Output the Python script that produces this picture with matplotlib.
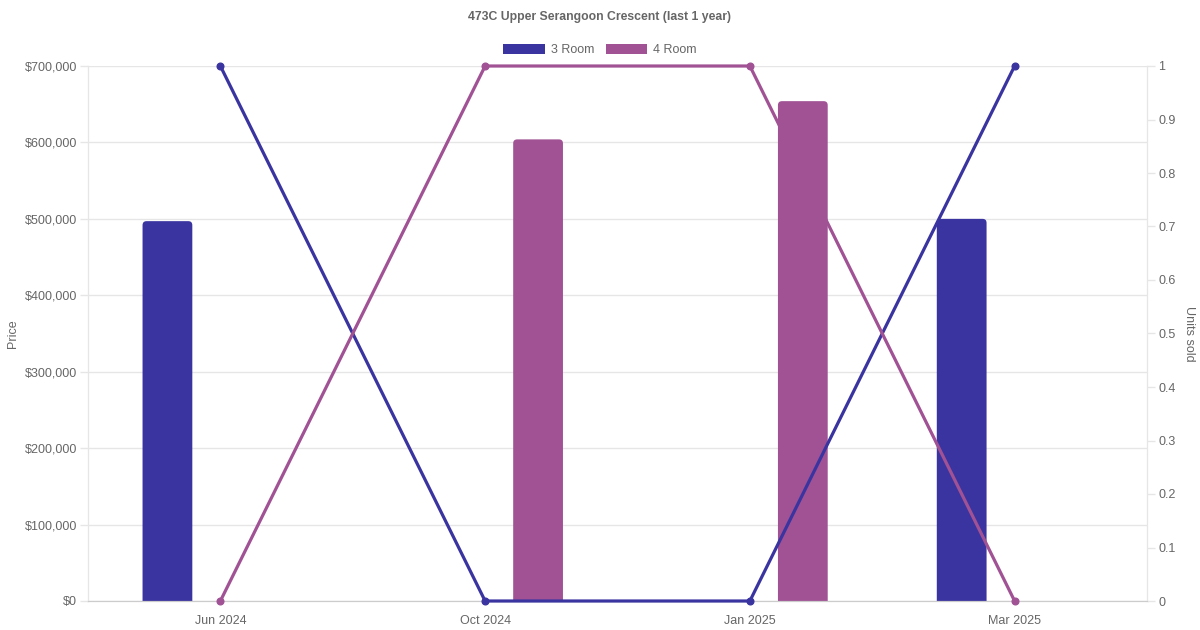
import numpy as np
import matplotlib
matplotlib.use("Agg")
import matplotlib.pyplot as plt
from matplotlib.patches import Patch, FancyBboxPatch
from matplotlib.ticker import FuncFormatter, MultipleLocator

plt.rcParams['font.family'] = ['Liberation Sans', 'DejaVu Sans']

months = ['Jun 2024', 'Oct 2024', 'Jan 2025', 'Mar 2025']
price_3room = [497000, np.nan, np.nan, 500000]
price_4room = [np.nan, 604000, 654000, np.nan]
units_3room = [1, 0, 0, 1]
units_4room = [0, 1, 1, 0]

c3 = '#3a34a0'
c4 = '#a05294'
grid_c = '#e6e6e6'
text_c = '#666666'

fig = plt.figure(figsize=(12, 6.3), dpi=100)
ax = fig.add_axes([88 / 1200, 29 / 630, (1147 - 88) / 1200, (601 - 66) / 630])
ax2 = ax.twinx()

ax.set_xlim(-0.5, len(months) - 0.5)
ax.set_ylim(0, 700000)
ax2.set_ylim(0, 1)

x = np.arange(len(months))
bars = list(ax.bar(x - 0.2, price_3room, width=0.188, color=c3, zorder=2))
bars += list(ax.bar(x + 0.2, price_4room, width=0.188, color=c4, zorder=2))

# round the bar tops like the original (corner radius ~4px)
px_x = len(months) / 1059
px_y = 700000 / 535
r = 4 * px_x
for b in bars:
    h = b.get_height()
    if not np.isfinite(h):
        continue
    b.set_visible(False)
    p = FancyBboxPatch((b.get_x(), -5 * px_y), b.get_width(), h + 5 * px_y,
                       boxstyle='round,pad=0,rounding_size=%f' % r,
                       mutation_aspect=px_y / px_x,
                       facecolor=b.get_facecolor(), edgecolor='none', zorder=2)
    ax.add_patch(p)

ax2.plot(x, units_3room, color=c3, lw=2.3, marker='o', ms=4.8, clip_on=False, zorder=3)
ax2.plot(x, units_4room, color=c4, lw=2.3, marker='o', ms=4.8, clip_on=False, zorder=3)

ax.yaxis.set_major_locator(MultipleLocator(100000))
ax.yaxis.set_major_formatter(FuncFormatter(lambda v, p: '${:,.0f}'.format(v)))
ax2.yaxis.set_major_locator(MultipleLocator(0.1))
ax2.yaxis.set_major_formatter(FuncFormatter(lambda v, p: '{:g}'.format(round(v, 1))))

ax.set_xticks(x)
ax.set_xticklabels(months)
ax.tick_params(axis='x', length=0, pad=10, labelsize=9, labelcolor=text_c)
ax.tick_params(axis='y', length=6, width=1, color=grid_c, pad=2, labelsize=9, labelcolor=text_c)
ax2.tick_params(axis='y', length=6, width=1, color=grid_c, pad=2, labelsize=9, labelcolor=text_c)

ax.grid(axis='y', color=grid_c, lw=1, zorder=0)
ax.set_axisbelow(True)
for a in (ax, ax2):
    a.spines['top'].set_visible(False)
    a.spines['left'].set_color(grid_c)
    a.spines['right'].set_color(grid_c)
    a.spines['bottom'].set_color('#cccccc')

ax.set_ylabel('Price', color=text_c, fontsize=9, labelpad=4)
ax2.set_ylabel('Units sold', color=text_c, fontsize=9, rotation=270, labelpad=14)

fig.text(0.5, 1 - 17 / 630, '473C Upper Serangoon Crescent (last 1 year)',
         ha='center', va='center', fontsize=8.8, fontweight='bold', color=text_c)

handles = [Patch(facecolor=c3, label='3 Room'), Patch(facecolor=c4, label='4 Room')]
fig.legend(handles=handles, loc='center', bbox_to_anchor=(0.5, 1 - 50 / 630), ncol=2,
           frameon=False, fontsize=9, labelcolor=text_c, handlelength=3.3,
           handleheight=0.9, handletextpad=0.5, columnspacing=0.9)

fig.savefig('out.png', dpi=100)
